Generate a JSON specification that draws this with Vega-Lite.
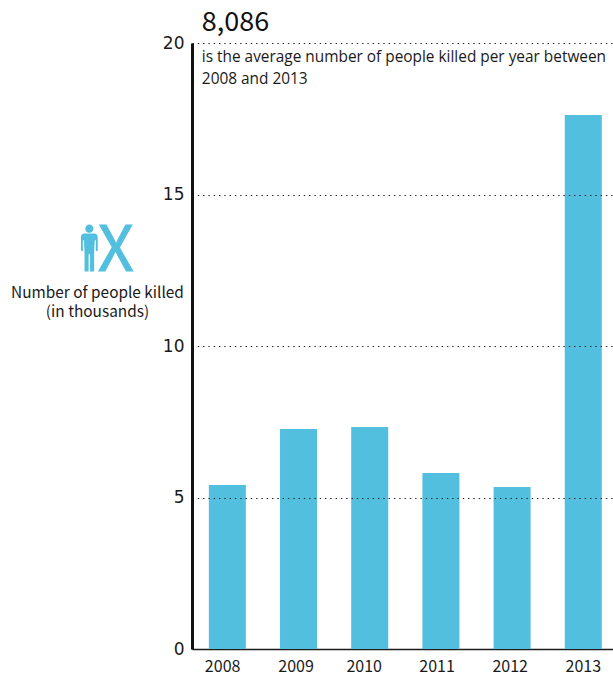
{
  "$schema": "https://vega.github.io/schema/vega-lite/v6.json",
  "width": 421,
  "height": 606,
  "autosize": "none",
  "padding": {"left": 192, "top": 43, "right": 0, "bottom": 26},
  "background": "white",
  "config": {"view": {"stroke": null}},
  "layer": [
    {
      "data": {"values": [
        {"year": "2008", "killed": 5.41},
        {"year": "2009", "killed": 7.26},
        {"year": "2010", "killed": 7.33},
        {"year": "2011", "killed": 5.81},
        {"year": "2012", "killed": 5.35},
        {"year": "2013", "killed": 17.62}
      ]},
      "mark": {"type": "bar", "color": "#52bfdf", "clip": false},
      "encoding": {
        "x": {
          "field": "year", "type": "nominal",
          "scale": {"paddingInner": 0.48, "paddingOuter": 0.197, "align": 0.6},
          "axis": {
            "title": null, "labelAngle": 0, "ticks": false, "labelPadding": 9,
            "labelOffset": {"expr": "[-4.7,-2.5,-5.5,-3.8,-1.9,0][indexof(['2008','2009','2010','2011','2012','2013'],datum.value)]"},
            "labelFont": "Noto Sans CJK SC", "labelFontSize": 16, "labelColor": "#1a1a1a",
            "domainColor": "#1a1a1a", "domainWidth": 1.5
          }
        },
        "y": {
          "field": "killed", "type": "quantitative",
          "scale": {"domain": [0, 20], "nice": false},
          "axis": {
            "values": [0, 5, 10, 15, 20],
            "zindex": 1,
            "title": ["Number of people killed", "(in thousands)"],
            "titleAngle": 0, "titleAlign": "center", "titleBaseline": "alphabetic",
            "titleX": -95, "titleY": 254,
            "titleFont": "Noto Sans CJK SC", "titleFontSize": 15.4, "titleFontWeight": "normal", "titleColor": "#1a1a1a",
            "titleLineHeight": 19,
            "ticks": false, "labelPadding": 8,
            "labelFont": "DejaVu Sans", "labelFontSize": 17, "labelColor": "#1a1a1a",
            "domainColor": "#111111", "domainWidth": 3,
            "grid": true, "gridColor": "#222222", "gridDash": [1.4, 3.9], "gridWidth": 1.2
          }
        }
      }
    },
    {
      "data": {"values": [{"year": "2008", "pos": 20.4, "label": "8,086"}]},
      "mark": {"type": "text", "align": "left", "baseline": "alphabetic", "dx": -25.5, "font": "Noto Sans CJK SC", "fontSize": 27, "color": "#111111"},
      "encoding": {
        "x": {"field": "year", "type": "nominal"},
        "y": {"field": "pos", "type": "quantitative"},
        "text": {"field": "label"}
      }
    },
    {
      "data": {"values": [
        {"year": "2008", "pos": 19.37, "label": "is the average number of people killed per year between"},
        {"year": "2008", "pos": 18.65, "label": "2008 and 2013"}
      ]},
      "mark": {"type": "text", "align": "left", "baseline": "alphabetic", "dx": -25.5, "font": "Open Sans", "fontSize": 15.4, "color": "#1a1a1a"},
      "encoding": {
        "x": {"field": "year", "type": "nominal"},
        "y": {"field": "pos", "type": "quantitative"},
        "text": {"field": "label"}
      }
    },
    {
      "data": {"values": [{"year": "2008", "pos": 13.23}]},
      "mark": {
        "type": "point", "filled": true, "opacity": 1, "color": "#52bfdf", "size": 2304, "xOffset": -138,
        "shape": "M-.17,-.81a.17,.17 0 1,0 .34,0a.17,.17 0 1,0 -.34,0ZM-.2,-.61L.2,-.61Q.35,-.61 .35,-.45L.35,.1Q.31,.16 .27,.1L.27,-.33L.225,-.33L.2,.2L.2,.97L.03,.97L.03,.25L-.03,.25L-.03,.97L-.2,.97L-.2,.2L-.225,-.33L-.27,-.33L-.27,.1Q-.31,.16 -.35,.1L-.35,-.45Q-.35,-.61 -.2,-.61Z"
      },
      "encoding": {
        "x": {"field": "year", "type": "nominal"},
        "y": {"field": "pos", "type": "quantitative"}
      }
    },
    {
      "data": {"values": [{"year": "2008", "pos": 12.47, "label": "X"}]},
      "mark": {"type": "text", "align": "center", "baseline": "alphabetic", "dx": -111.5, "font": "Noto Sans CJK SC", "fontSize": 63, "color": "#52bfdf", "stroke": "#52bfdf", "strokeWidth": 1},
      "encoding": {
        "x": {"field": "year", "type": "nominal"},
        "y": {"field": "pos", "type": "quantitative"},
        "text": {"field": "label"}
      }
    }
  ]
}
